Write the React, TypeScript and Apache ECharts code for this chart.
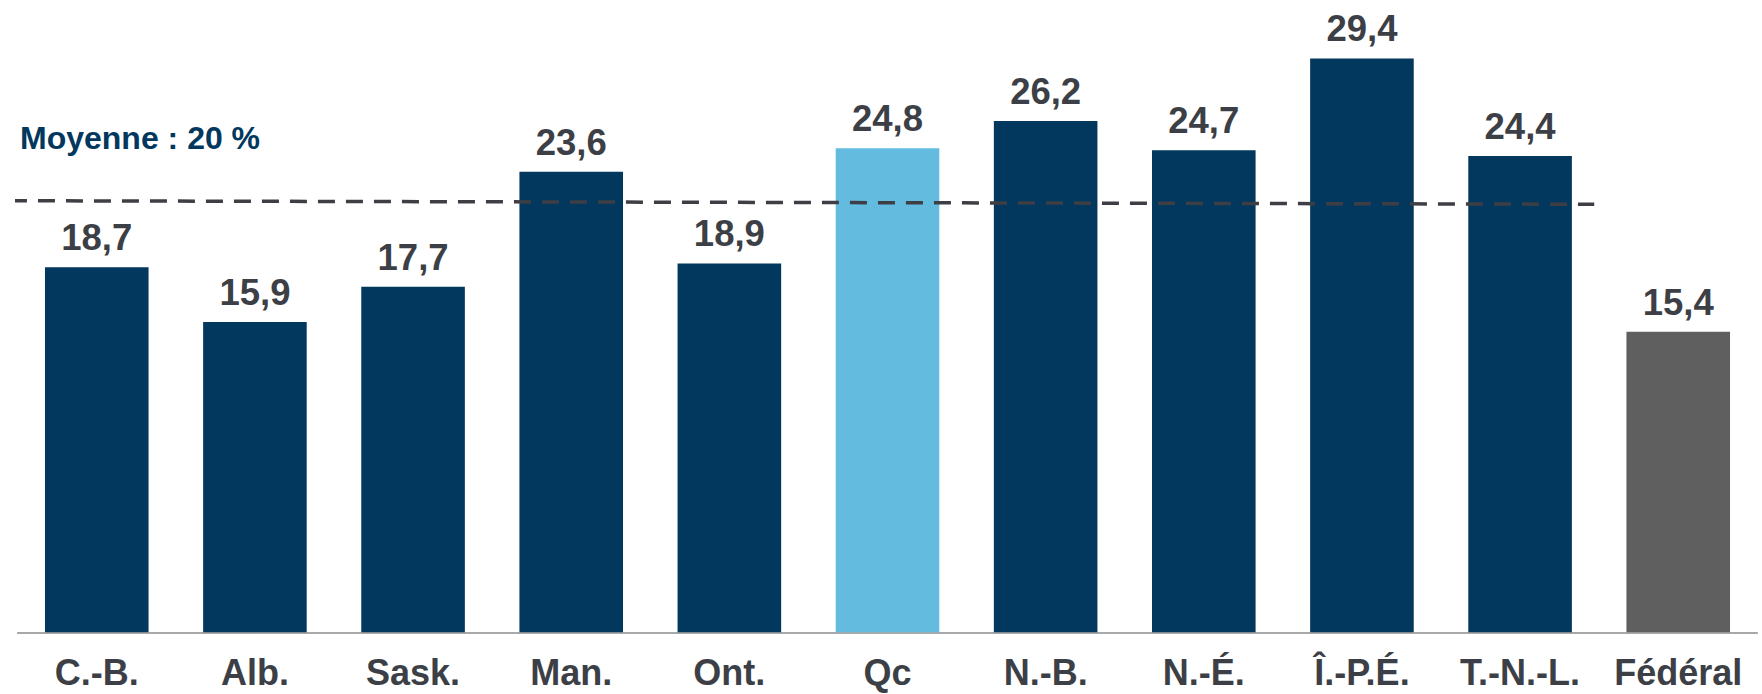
import React, { useEffect, useRef } from "react";
import * as echarts from "echarts";

const categories = ["C.-B.", "Alb.", "Sask.", "Man.", "Ont.", "Qc", "N.-B.", "N.-É.", "Î.-P.É.", "T.-N.-L.", "Fédéral"];
const values = [18.7, 15.9, 17.7, 23.6, 18.9, 24.8, 26.2, 24.7, 29.4, 24.4, 15.4];
const highlightCategory = "Qc";
const federalCategory = "Fédéral";
const averageText = "Moyenne : 20 %";
// dashed average line as drawn: [category position, value]
const averageLinePoints: [number, number][] = [
  [-0.549, 22.11],
  [9.469, 21.93],
];

const FONT = "'Liberation Sans', Arial, sans-serif";
const NAVY = "#02375e";
const LIGHT = "#63bbe0";
const GRAY = "#5f5f5f";
const TEXT = "#3c3f46";

export default function App() {
  const ref = useRef<HTMLDivElement>(null);
  useEffect(() => {
    if (!ref.current) return;
    const chart = echarts.init(ref.current, undefined, { renderer: "svg" });
    chart.setOption({
      animation: false,
      backgroundColor: "#ffffff",
      grid: { left: 17.7, right: 4.7, top: 7.7, bottom: 61.7, containLabel: false },
      xAxis: [
        {
          type: "category",
          data: categories,
          axisLine: { show: true, lineStyle: { color: "#8c8c8c", width: 1.5 } },
          axisTick: { show: false },
          axisLabel: {
            interval: 0,
            margin: 22,
            color: TEXT,
            fontFamily: FONT,
            fontWeight: "bold",
            fontSize: 36,
          },
        },
        {
          type: "value",
          min: -0.5,
          max: 10.5,
          show: false,
        },
      ],
      yAxis: {
        type: "value",
        min: 0,
        max: 32,
        show: false,
        splitLine: { show: false },
      },
      series: [
        {
          type: "bar",
          xAxisIndex: 0,
          barWidth: "65.5%",
          data: values.map((v, i) => ({
            value: v,
            itemStyle: {
              color:
                categories[i] === highlightCategory
                  ? LIGHT
                  : categories[i] === federalCategory
                  ? GRAY
                  : NAVY,
            },
          })),
          label: {
            show: true,
            position: "top",
            distance: 11,
            color: TEXT,
            fontFamily: FONT,
            fontWeight: "bold",
            fontSize: 36.5,
            formatter: (p: any) => String(p.value).replace(".", ","),
          },
        },
        {
          type: "line",
          xAxisIndex: 1,
          data: averageLinePoints,
          symbol: "none",
          clip: false,
          silent: true,
          z: 5,
          lineStyle: { color: "#3d3f45", width: 3.5, type: [17, 11], cap: "butt" },
        },
      ],
      graphic: [
        {
          type: "text",
          x: 20,
          y: 138.3,
          style: {
            text: averageText,
            fill: NAVY,
            font: `bold 32px ${FONT}`,
            textVerticalAlign: "middle",
          },
        },
      ],
    });
    return () => chart.dispose();
  }, []);
  return (
    <div
      ref={ref}
      style={{ position: "absolute", left: 0, top: 0, width: 1762, height: 694 }}
    />
  );
}
